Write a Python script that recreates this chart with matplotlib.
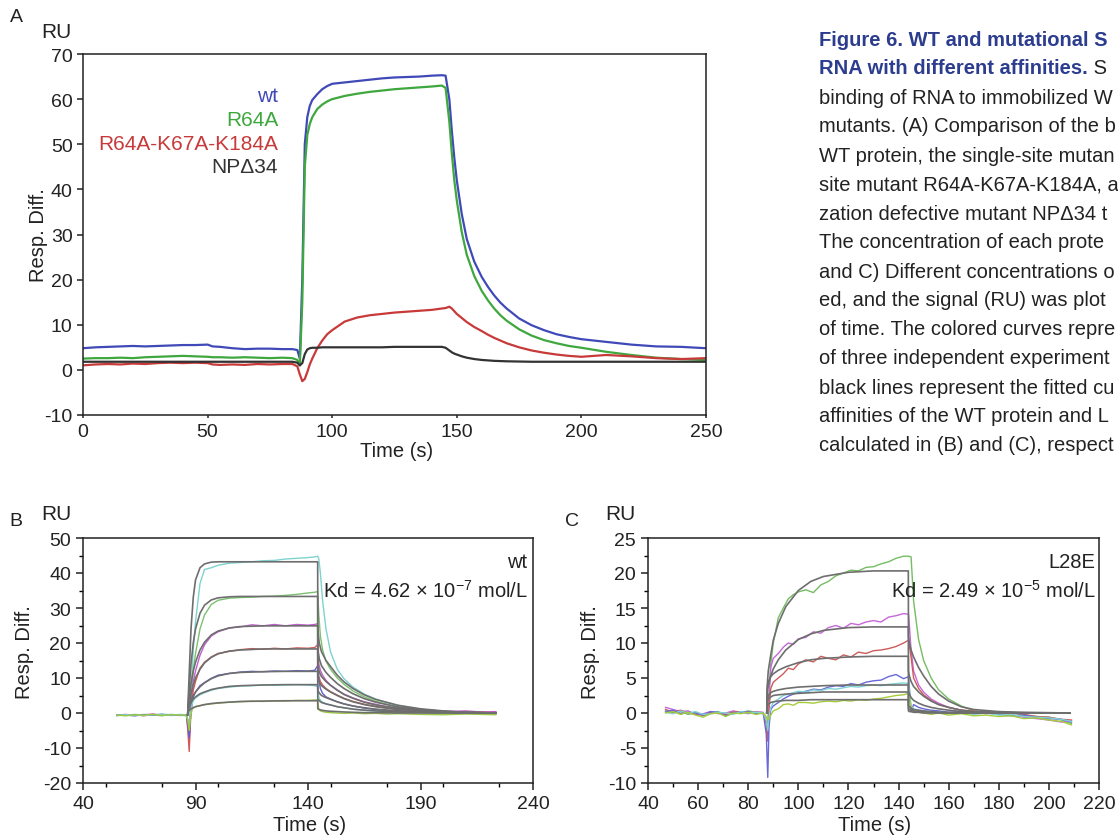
import matplotlib
matplotlib.use("Agg")
import matplotlib.pyplot as plt
import numpy as np
from matplotlib.ticker import MultipleLocator

plt.rcParams['font.family'] = ['Liberation Sans', 'DejaVu Sans']
plt.rcParams['mathtext.fontset'] = 'custom'
plt.rcParams['mathtext.rm'] = 'Liberation Sans'
plt.rcParams['mathtext.it'] = 'Liberation Sans:italic'
plt.rcParams['axes.unicode_minus'] = False

# ---------------- Panel A data ----------------
tA = [0, 5, 10, 15, 20, 25, 30, 35, 40, 45, 50, 52, 55, 60, 65, 70, 75, 80, 84, 86,
      87, 88, 89, 90, 91, 92, 94, 96, 98, 100, 105, 110, 115, 120, 125, 130, 135, 140,
      144, 145.5, 147, 148, 149, 150, 152, 154, 157, 160, 162.5, 165, 167.5, 170, 175, 180,
      185, 190, 195, 200, 210, 220, 230, 240, 250]
a_wt = [4.8, 5.0, 5.1, 5.2, 5.3, 5.2, 5.3, 5.4, 5.5, 5.5, 5.6, 5.2, 5.1, 4.8, 4.6, 4.7, 4.7, 4.6, 4.6, 4.4,
        2.5, 20, 50, 56, 58.5, 59.8, 61.1, 62.2, 62.9, 63.4, 63.7, 64.0, 64.3, 64.6, 64.8, 64.9, 65.0, 65.2,
        65.3, 65.2, 60, 53, 47, 42, 34.5, 29, 24, 20.6, 18.4, 16.5, 14.9, 13.6, 11.4, 9.9,
        8.8, 7.9, 7.3, 6.8, 6.2, 5.6, 5.2, 5.1, 4.8]
a_r64a = [2.5, 2.6, 2.6, 2.7, 2.6, 2.8, 2.9, 3.0, 3.1, 3.0, 2.9, 2.8, 2.8, 2.7, 2.8, 2.7, 2.6, 2.7, 2.6, 2.2,
          1.0, 15, 45, 52, 54.5, 56, 57.8, 58.8, 59.5, 60.0, 60.7, 61.2, 61.6, 61.9, 62.2, 62.4, 62.6, 62.8,
          63.0, 62.5, 55, 48, 42, 37.5, 30.5, 25.5, 20.8, 17.5, 15.4, 13.6, 12.1, 10.9, 9.0, 7.6,
          6.6, 5.9, 5.3, 4.9, 4.0, 3.3, 2.7, 2.4, 2.2]
a_triple = [1.0, 1.2, 1.3, 1.2, 1.4, 1.3, 1.5, 1.6, 1.5, 1.6, 1.5, 1.2, 1.1, 1.2, 1.1, 1.3, 1.2, 1.3, 1.3, 0.8,
            -1.0, -2.5, -2.0, -0.5, 1.2, 2.5, 4.8, 6.5, 7.9, 8.8, 10.7, 11.6, 12.1, 12.4, 12.7, 12.9, 13.1, 13.3,
            13.6, 13.7, 14.0, 13.6, 13.0, 12.4, 11.5, 10.6, 9.5, 8.6, 7.8, 7.1, 6.5, 5.9, 5.0, 4.3,
            3.8, 3.4, 3.1, 2.9, 3.3, 3.0, 2.6, 2.4, 2.6]
a_np34 = [1.8, 1.8, 1.8, 1.8, 1.8, 1.8, 1.8, 1.8, 1.8, 1.8, 1.8, 1.8, 1.8, 1.8, 1.8, 1.8, 1.8, 1.8, 1.8, 1.6,
          1.0, 1.5, 3.5, 4.5, 4.8, 4.9, 4.9, 5.0, 5.0, 5.0, 5.0, 5.0, 5.0, 5.0, 5.1, 5.1, 5.1, 5.1,
          5.1, 4.9, 4.3, 3.9, 3.6, 3.4, 3.0, 2.7, 2.4, 2.2, 2.1, 2.0, 1.95, 1.9, 1.85, 1.8,
          1.8, 1.8, 1.8, 1.8, 1.8, 1.8, 1.8, 1.8, 1.8]
a_names = ['wt', 'R64A', 'R64A-K67A-K184A', 'NP\u039434']
a_colors = ['#4049b8', '#3ea73e', '#c83a3a', '#333333']

# ---------------- Panel B data (wt, 7 concentrations) ----------------
tB = [55, 59, 63, 67, 71, 75, 79, 83, 86, 86.6, 87.2, 87.8, 88.5, 89, 90, 92, 94, 97, 100,
      105, 110, 115, 120, 125, 130, 135, 140, 143, 144.3, 144.8, 145.5, 146.5, 148, 150,
      153, 156, 160, 165, 170, 175, 180, 190, 200, 210, 217, 223.5]
b_d1 = [-0.8, -0.5, -0.7, -0.4, -0.6, -0.3, -0.5, -0.6, -0.8, -3, -6, 2, 12, 18, 26, 37, 41, 41.5, 42.2,
        42.8, 43.0, 43.2, 43.5, 43.6, 44.0, 44.2, 44.4, 44.6, 44.8, 44.0, 40, 32, 24, 17.5,
        12.5, 9.8, 7.4, 5.4, 4.0, 3.0, 2.2, 1.0, 0.5, 0.2, 0.3, 0.0]
b_d2 = [-0.5, -0.7, -0.4, -0.6, -0.5, -0.8, -0.4, -0.6, -0.5, -2, -5, 1, 8, 12, 17, 24, 28, 31, 32.2,
        32.8, 33.0, 33.1, 33.3, 33.4, 33.6, 33.9, 34.3, 34.5, 34.7, 28, 22, 18, 14.8, 12.5,
        10.0, 8.2, 6.3, 4.6, 3.4, 2.5, 1.8, 0.9, 0.2, -0.1, 0.2, -0.3]
b_d3 = [-0.6, -0.4, -0.7, -0.5, -0.3, -0.6, -0.5, -0.7, -0.6, -4, -8, 0, 6, 9, 12, 16.5, 19.5, 22, 23.2,
        24.3, 24.6, 25.2, 24.9, 25.3, 24.9, 25.3, 25.1, 25.3, 25.5, 14, 12.2, 10.8, 9.3, 8.0,
        6.6, 5.4, 4.3, 3.2, 2.5, 1.8, 1.4, 0.8, 0.4, 0.6, 0.3, 0.4]
b_d4 = [-0.7, -0.5, -0.5, -0.8, -0.4, -0.6, -0.6, -0.5, -0.7, -5, -11, -2, 4, 6.5, 9, 12.8, 14.5, 16.0, 17.0,
        17.6, 18.1, 18.4, 18.2, 18.5, 18.3, 18.6, 18.5, 18.7, 19.5, 10.5, 9.0, 8.0, 7.0, 6.1,
        5.1, 4.2, 3.3, 2.5, 1.9, 1.4, 1.0, 0.5, 0.2, 0.0, 0.2, 0.1]
b_d5 = [-0.5, -0.6, -0.8, -0.5, -0.6, -0.4, -0.7, -0.5, -0.6, -3, -7, -1, 3, 4.5, 6, 7.8, 8.7, 9.9, 10.8,
        11.3, 11.7, 11.9, 11.8, 12.0, 11.9, 12.1, 12.0, 12.2, 13.5, 9.5, 7.0, 5.6, 4.6, 4.0,
        3.2, 2.6, 2.0, 1.4, 1.0, 0.7, 0.5, 0.2, 0.0, 0.1, -0.1, 0.0]
b_d6 = [-0.6, -0.5, -0.6, -0.7, -0.5, -0.5, -0.6, -0.4, -0.5, -2, -4, 0, 2.5, 3.5, 4.3, 5.2, 5.8, 6.5, 7.0,
        7.4, 7.7, 7.8, 8.0, 7.9, 8.0, 8.1, 8.0, 7.8, 7.5, 4.5, 3.6, 3.1, 2.6, 2.3,
        1.8, 1.5, 1.1, 0.8, 0.6, 0.4, 0.3, 0.2, -0.1, 0.0, -0.2, -0.1]
b_d7 = [-0.6, -0.8, -0.5, -0.6, -0.4, -0.7, -0.5, -0.6, -0.6, -2, -5, -1, 1, 1.5, 1.8, 2.1, 2.4, 2.6, 2.8,
        3.1, 3.2, 3.4, 3.3, 3.5, 3.4, 3.6, 3.6, 3.7, 3.8, 1.0, 0.6, 0.4, 0.2, 0.1,
        0.0, -0.1, 0.0, -0.2, -0.1, -0.3, -0.2, -0.4, -0.5, -0.3, -0.4, -0.5]
b_data_colors = ['#7fd3cf', '#7cc070', '#c25fd0', '#cf5a5a', '#5f5fd0', '#7fd3cf', '#9cc845']

tB_fit = [86.5, 87, 88, 89, 90, 92, 94, 97, 100, 105, 110, 120, 130, 144.3,
          144.35, 145, 146, 148, 150, 153, 156, 160, 165, 170, 180, 190, 200, 210, 223.5]
b_f1 = [-0.5, 8, 24, 33, 38, 41.5, 42.6, 43.1, 43.2, 43.2, 43.2, 43.2, 43.2, 43.2,
        24, 20, 17.5, 15.0, 13.3, 10.8, 8.9, 7.0, 5.2, 3.9, 2.2, 1.2, 0.6, 0.2, 0.0]
b_f2 = [-0.5, 5, 14, 20, 24, 28.5, 30.8, 32.3, 32.9, 33.2, 33.3, 33.3, 33.3, 33.3,
        18, 15.5, 13.5, 11.6, 10.2, 8.4, 7.0, 5.5, 4.1, 3.1, 1.7, 1.0, 0.5, 0.2, 0.0]
b_f3 = [-0.5, 3, 8.5, 12, 14.5, 18, 20.2, 22.3, 23.4, 24.3, 24.7, 24.9, 24.9, 24.9,
        13.5, 11.8, 10.4, 9.0, 7.9, 6.5, 5.3, 4.2, 3.1, 2.3, 1.3, 0.7, 0.4, 0.2, 0.0]
b_f4 = [-0.5, 2, 5.5, 8, 10, 12.5, 14.3, 15.9, 16.9, 17.7, 18.0, 18.3, 18.3, 18.3,
        10, 8.8, 7.8, 6.8, 6.0, 5.0, 4.1, 3.2, 2.4, 1.8, 1.0, 0.6, 0.3, 0.1, 0.0]
b_f5 = [-0.5, 1.5, 3.5, 5, 6, 7.5, 8.6, 9.8, 10.6, 11.3, 11.6, 11.8, 11.9, 11.9,
        6.5, 5.7, 5.0, 4.4, 3.9, 3.2, 2.6, 2.0, 1.5, 1.1, 0.6, 0.3, 0.2, 0.1, 0.0]
b_f6 = [-0.5, 1.5, 3, 4, 4.6, 5.5, 6.0, 6.7, 7.1, 7.6, 7.8, 8.0, 8.1, 8.1,
        4.0, 3.5, 3.0, 2.6, 2.3, 1.8, 1.5, 1.1, 0.8, 0.6, 0.3, 0.2, 0.1, 0.0, 0.0]
b_f7 = [-0.5, 0.6, 1.2, 1.5, 1.8, 2.1, 2.4, 2.7, 2.9, 3.1, 3.3, 3.4, 3.5, 3.5,
        1.2, 1.0, 0.8, 0.6, 0.5, 0.4, 0.3, 0.2, 0.1, 0.1, 0.0, 0.0, 0.0, 0.0, 0.0]

# ---------------- Panel C data (L28E, 6 concentrations) ----------------
tC = [47, 50, 53, 56, 59, 62, 65, 68, 71, 74, 77, 80, 83, 86,
      87.2, 87.8, 88.3, 89, 90, 92, 94, 96, 98, 100,
      103, 106, 109, 112, 115, 118, 121, 124, 127, 130, 133, 136, 139, 142,
      144, 145, 146, 148, 150,
      153, 156, 160, 165, 170, 175, 180, 185, 190, 195, 200, 205, 209]
c_d1 = [0.3, 0.0, 0.2, -0.2, 0.1, -0.4, 0.0, 0.2, -0.3, 0.2, 0.0, 0.3, 0.1, 0.0,
        -1.0, -2.0, 3.0, 7.0, 10.0, 13.6, 15.0, 16.3, 16.9, 17.3,
        17.6, 17.2, 18.3, 18.8, 19.6, 20.0, 20.4, 20.3, 20.8, 20.9, 21.3, 21.6, 22.1, 22.4,
        22.4, 22.3, 16.0, 10.5, 7.5,
        5.0, 3.3, 2.0, 1.0, 0.3, 0.1, -0.1, 0.0, -0.3, -0.5, -0.6, -1.0, -1.5]
c_d2 = [0.8, 0.5, 0.2, 0.3, -0.2, -0.1, 0.2, -0.1, 0.0, 0.3, 0.1, -0.1, 0.2, 0.1,
        -1.5, -4.0, 2.0, 6.5, 7.8, 8.5, 9.4, 10.0, 9.8, 10.6,
        10.8, 11.6, 11.4, 12.2, 12.5, 12.1, 12.8, 12.6, 13.0, 13.2, 13.0, 13.7, 13.9, 14.2,
        14.1, 9.0, 6.0, 4.0, 3.0,
        2.0, 1.4, 0.8, 0.4, 0.1, -0.1, 0.2, -0.3, -0.6, -0.8, -1.0, -1.3, -1.1]
c_d3 = [0.5, 0.1, 0.4, 0.0, -0.2, -0.3, 0.1, 0.0, -0.2, 0.1, 0.2, 0.0, 0.1, -0.1,
        -1.5, -4.0, 0.5, 3.5, 4.4, 5.0, 5.6, 6.4, 6.2, 7.0,
        7.6, 7.3, 8.1, 7.8, 7.6, 8.3, 8.0, 8.7, 8.5, 8.9, 9.0, 9.2, 9.5, 10.0,
        10.4, 8.0, 5.0, 3.5, 2.6,
        1.8, 1.2, 0.8, 0.4, 0.3, 0.1, 0.2, 0.0, -0.2, -0.5, -0.6, -0.9, -1.0]
c_d4 = [0.2, 0.4, -0.1, 0.1, 0.0, -0.3, 0.2, 0.1, -0.4, 0.0, 0.1, 0.2, -0.1, 0.0,
        -3.0, -9.2, -2.0, 0.5, 1.0, 1.5, 2.0, 2.4, 2.7, 2.9,
        3.1, 3.4, 3.3, 3.7, 3.9, 3.8, 4.2, 4.0, 4.4, 4.6, 4.7, 5.2, 5.5, 4.9,
        5.2, 0.2, 1.2, 0.8, 0.6,
        0.4, 0.3, 0.1, 0.2, -0.1, 0.0, -0.2, -0.4, -0.3, -0.6, -0.8, -0.9, -1.3]
c_d5 = [0.1, -0.1, 0.3, 0.0, 0.2, -0.2, -0.1, 0.1, 0.0, -0.2, 0.2, 0.0, 0.1, 0.0,
        -1.0, -2.5, -0.5, 0.8, 1.5, 2.0, 2.5, 2.7, 2.9, 3.1,
        3.0, 3.3, 3.2, 3.5, 3.4, 3.6, 3.8, 3.7, 3.9, 4.0, 3.9, 4.1, 4.2, 4.3,
        4.2, 1.0, 0.6, 0.4, 0.3,
        0.2, 0.1, 0.0, 0.1, -0.2, 0.0, -0.3, -0.2, -0.5, -0.6, -0.7, -0.9, -1.2]
c_d6 = [0.0, 0.2, -0.2, 0.1, -0.3, -0.6, -0.1, 0.0, -0.5, 0.0, -0.1, 0.1, -0.2, 0.0,
        -0.5, -1.0, -0.8, -0.3, 0.3, 0.6, 1.2, 1.3, 1.1, 1.5,
        1.5, 1.4, 1.6, 1.7, 1.6, 1.8, 1.7, 1.9, 1.8, 2.0, 2.1, 2.3, 2.5, 2.6,
        2.8, 0.8, 0.2, 0.1, 0.0,
        -0.2, 0.0, -0.3, -0.1, -0.4, -0.3, -0.5, -0.4, -0.8, -0.7, -1.0, -1.2, -1.7]
c_data_colors = ['#74bd62', '#c568d8', '#cc5c5c', '#6868d8', '#7fd3d3', '#a6cc3c']

tC_fit = [87.4, 87.6, 88, 89, 90, 92, 95, 100, 105, 110, 120, 130, 143.9,
          143.95, 144.3, 145, 146, 148, 150, 153, 156, 160, 165, 170, 180, 190, 208.4]
c_f1 = [0, 4, 6, 8.3, 10.4, 12.8, 15.2, 17.5, 18.8, 19.5, 20.1, 20.3, 20.3,
        11, 10, 9.0, 8.0, 6.5, 5.3, 3.8, 2.7, 1.7, 0.9, 0.5, 0.2, 0.1, 0.0]
c_f2 = [0, 3, 4, 5.3, 6.3, 7.6, 9.0, 10.5, 11.3, 11.8, 12.2, 12.3, 12.3,
        6.0, 5.3, 4.5, 3.8, 3.0, 2.4, 1.7, 1.2, 0.8, 0.4, 0.2, 0.1, 0.0, 0.0]
c_f3 = [0, 3.5, 4.5, 5.2, 5.6, 6.1, 6.6, 7.2, 7.6, 7.8, 8.0, 8.1, 8.1,
        3.2, 2.7, 2.2, 1.8, 1.4, 1.1, 0.8, 0.6, 0.4, 0.2, 0.1, 0.0, 0.0, 0.0]
c_f4 = [0, 2.0, 2.5, 2.9, 3.1, 3.3, 3.5, 3.7, 3.8, 3.9, 4.0, 4.0, 4.0,
        1.1, 0.9, 0.7, 0.5, 0.4, 0.3, 0.2, 0.1, 0.1, 0.0, 0.0, 0.0, 0.0, 0.0]
c_f5 = [0, 1.6, 2.0, 2.3, 2.5, 2.6, 2.7, 2.8, 2.9, 3.0, 3.0, 3.0, 3.0,
        0.6, 0.5, 0.4, 0.3, 0.2, 0.2, 0.1, 0.1, 0.0, 0.0, 0.0, 0.0, 0.0, 0.0]
c_f6 = [0, 1.0, 1.3, 1.5, 1.6, 1.7, 1.8, 1.8, 1.9, 1.9, 1.9, 1.9, 1.9,
        0.3, 0.2, 0.2, 0.1, 0.1, 0.0, 0.0, 0.0, 0.0, 0.0, 0.0, 0.0, 0.0, 0.0]

caption_bold = ["Figure 6. WT and mutational S", "RNA with different affinities."]
caption_lines = ["binding of RNA to immobilized W",
                 "mutants. (A) Comparison of the b",
                 "WT protein, the single-site mutan",
                 "site mutant R64A-K67A-K184A, a",
                 "zation defective mutant NP\u039434 t",
                 "The concentration of each prote",
                 "and C) Different concentrations o",
                 "ed, and the signal (RU) was plot",
                 "of time. The colored curves repre",
                 "of three independent experiment",
                 "black lines represent the fitted cu",
                 "affinities of the WT protein and L",
                 "calculated in (B) and (C), respect"]

# ---------------- Figure ----------------
W, H = 1118, 837
fig = plt.figure(figsize=(W / 100, H / 100), dpi=100)
TXT = '#222222'
FS = 14


def ftext(x, y, s, **kw):
    kw.setdefault('ha', 'center')
    kw.setdefault('va', 'center')
    kw.setdefault('color', TXT)
    kw.setdefault('fontsize', FS)
    return fig.text(x / W, 1 - y / H, s, **kw)


def axes_px(l, t, r, b):
    return fig.add_axes([l / W, 1 - b / H, (r - l) / W, (b - t) / H])


def style(ax):
    for s in ax.spines.values():
        s.set_linewidth(1.1)
        s.set_color('#222222')
    ax.tick_params(labelsize=FS, colors=TXT, width=1.1, direction='out')
    ax.tick_params(which='minor', width=1.0, length=3)


# Panel A
axA = axes_px(83, 55, 706, 416)
for y, c in zip([a_wt, a_r64a, a_triple, a_np34], a_colors):
    axA.plot(tA, y, color=c, lw=1.6)
axA.set_xlim(0, 250)
axA.set_ylim(-10, 70)
axA.set_xticks([0, 50, 100, 150, 200, 250])
axA.set_yticks(range(-10, 71, 10))
style(axA)
axA.tick_params(axis='x', length=2, pad=4)
axA.tick_params(axis='y', length=4)
for i, (nm, c) in enumerate(zip(a_names, a_colors)):
    ftext(278, 97 + i * 23.5, nm, ha='right', color=c, fontsize=15)
ftext(16, 18, 'A', fontsize=14)
ftext(56, 33, 'RU', fontsize=15)
ftext(38, 235, 'Resp. Diff.', rotation=90, fontsize=14.5)
ftext(397, 452, 'Time (s)', fontsize=14.5)

# Panel B
axB = axes_px(83, 539, 533, 784)
for y, c in zip([b_d1, b_d2, b_d3, b_d4, b_d5, b_d6, b_d7], b_data_colors):
    axB.plot(tB, y, color=c, lw=1.0)
for y in [b_f1, b_f2, b_f3, b_f4, b_f5, b_f6, b_f7]:
    axB.plot(tB_fit, y, color='#6e6e6e', lw=1.2)
axB.set_xlim(40, 240)
axB.set_ylim(-20, 50)
axB.set_xticks([40, 90, 140, 190, 240])
axB.xaxis.set_minor_locator(MultipleLocator(25))
axB.set_yticks(range(-20, 51, 10))
axB.yaxis.set_minor_locator(MultipleLocator(5))
style(axB)
axB.tick_params(which='major', length=5)
ftext(527, 563, 'wt', ha='right', fontsize=14.5)
ftext(528, 591, r'Kd = 4.62 × 10$^{\mathrm{-7}}$ mol/L', ha='right', fontsize=14.5)
ftext(16, 522, 'B', fontsize=14)
ftext(56, 515, 'RU', fontsize=15)
ftext(25, 652, 'Resp. Diff.', rotation=90, fontsize=14.5)
ftext(310, 826, 'Time (s)', fontsize=14.5)

# Panel C
axC = axes_px(648, 539, 1099, 784)
for y, c in zip([c_d1, c_d2, c_d3, c_d4, c_d5, c_d6], c_data_colors):
    axC.plot(tC, y, color=c, lw=1.0)
for y in [c_f1, c_f2, c_f3, c_f4, c_f5, c_f6]:
    axC.plot(tC_fit, y, color='#6e6e6e', lw=1.2)
axC.set_xlim(40, 220)
axC.set_ylim(-10, 25)
axC.set_xticks(range(40, 221, 20))
axC.xaxis.set_minor_locator(MultipleLocator(10))
axC.set_yticks(range(-10, 26, 5))
axC.yaxis.set_minor_locator(MultipleLocator(2.5))
style(axC)
axC.tick_params(which='major', length=5)
ftext(1095, 563, 'L28E', ha='right', fontsize=14.5)
ftext(1096, 591, r'Kd = 2.49 × 10$^{\mathrm{-5}}$ mol/L', ha='right', fontsize=14.5)
ftext(572, 522, 'C', fontsize=14)
ftext(620, 515, 'RU', fontsize=15)
ftext(590, 652, 'Resp. Diff.', rotation=90, fontsize=14.5)
ftext(875, 826, 'Time (s)', fontsize=14.5)

# Caption
CAPC = '#2c3d8f'
y0 = 40
ftext(819, y0, caption_bold[0], ha='left', color=CAPC, fontweight='bold', fontsize=14.5)
t2 = ftext(819, y0 + 29, caption_bold[1], ha='left', color=CAPC, fontweight='bold', fontsize=14.5)
for i, line in enumerate(caption_lines):
    ftext(819, y0 + 29 * (i + 2), line, ha='left', fontsize=14.5)

fig.canvas.draw()
bb = t2.get_window_extent()
fig.text(bb.x1 / W, 1 - (y0 + 29) / H, ' S', ha='left', va='center', color=TXT, fontsize=14.5)

fig.savefig('out.png', dpi=100)
